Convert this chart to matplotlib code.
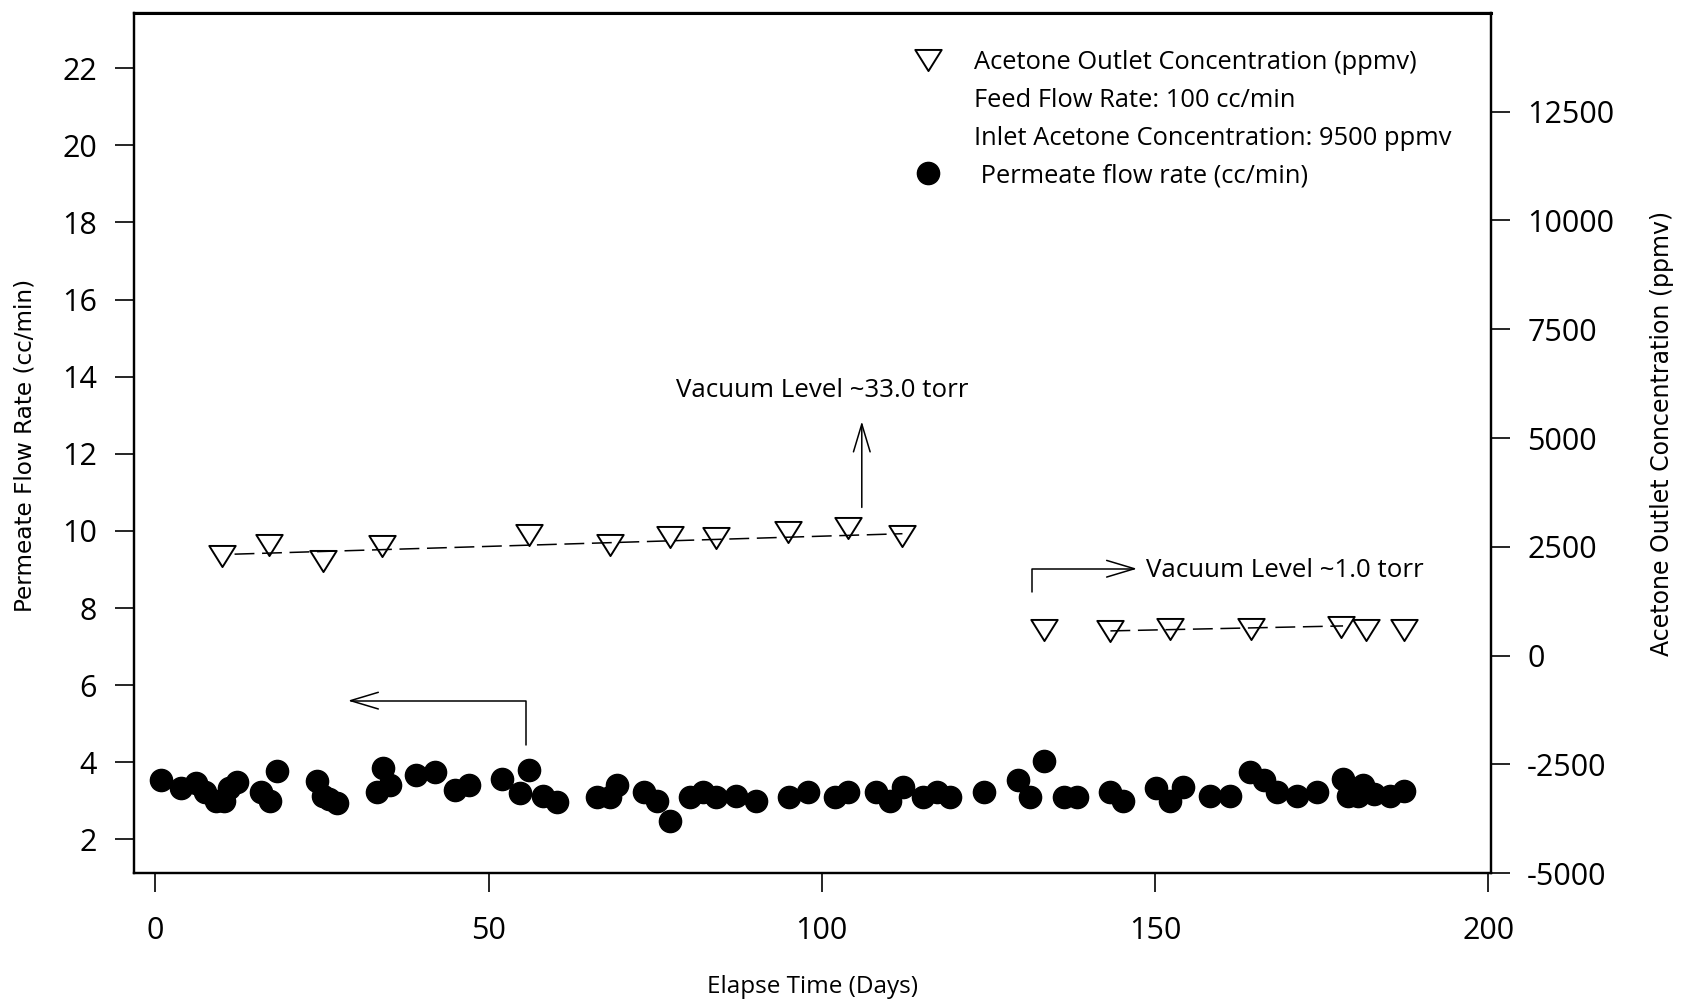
import matplotlib
matplotlib.use('Agg')
import matplotlib.pyplot as plt
from matplotlib.lines import Line2D
from matplotlib.path import Path

plt.rcParams['axes.unicode_minus'] = False
plt.rcParams['font.family'] = ['Open Sans', 'DejaVu Sans']

# permeate flow rate (cc/min), left axis
flow_days = [0.9, 3.9, 6.1, 7.4, 9.1, 10.3, 11.1, 12.3, 15.9, 17.2, 18.2,
             24.2, 25.1, 26.0, 27.2, 33.2, 34.1, 35.2, 39.1, 42.0, 44.9, 47.0,
             52.0, 54.7, 56.1, 58.2, 60.2, 66.2, 68.2, 69.3, 73.3, 75.3, 77.3,
             80.3, 82.2, 84.2, 87.2, 90.1, 95.1, 98.0, 102.0, 104.0, 108.2,
             110.2, 112.2, 115.2, 117.3, 119.2, 124.4, 129.4, 131.3, 133.4,
             136.3, 138.3, 143.2, 145.2, 150.2, 152.3, 154.2, 158.3, 161.3,
             164.3, 166.3, 168.3, 171.3, 174.3, 178.2, 178.9, 180.4, 181.2,
             182.8, 185.3, 187.3]
flow_rate = [3.55, 3.34, 3.46, 3.22, 3.01, 3.01, 3.34, 3.48, 3.24, 3.01, 3.77,
             3.51, 3.14, 3.06, 2.94, 3.24, 3.85, 3.40, 3.68, 3.74, 3.29, 3.40,
             3.57, 3.20, 3.79, 3.14, 2.96, 3.09, 3.09, 3.40, 3.22, 2.99, 2.49,
             3.09, 3.22, 3.09, 3.12, 3.01, 3.09, 3.22, 3.09, 3.24, 3.22,
             3.01, 3.35, 3.09, 3.22, 3.09, 3.22, 3.53, 3.11, 4.03,
             3.11, 3.11, 3.24, 3.01, 3.33, 3.01, 3.35, 3.14, 3.14,
             3.76, 3.53, 3.22, 3.14, 3.24, 3.57, 3.14, 3.12, 3.40,
             3.18, 3.14, 3.27]

# acetone outlet concentration (ppmv), right axis
conc_days_33 = [10.0, 17.1, 25.1, 34.0, 56.0, 68.2, 77.3, 84.2, 95.0, 103.9, 112.1]
conc_33 = [2280, 2550, 2170, 2520, 2780, 2550, 2730, 2710, 2850, 2930, 2750]
conc_days_1 = [133.3, 143.2, 152.2, 164.4, 177.9, 181.6, 187.4]
conc_1 = [595, 560, 610, 610, 650, 595, 595]

# dashed trend lines
trend_days_33 = [11.9, 112.1]
trend_33 = [2330, 2800]
trend_days_1 = [143.3, 178.2]
trend_1 = [566, 680]

# open down-pointing triangle, a bit flatter than matplotlib's 'v'
tri = Path([(-1, 0.8), (1, 0.8), (0, -0.8), (-1, 0.8)], closed=True)

fig = plt.figure(figsize=(16.93, 10.05), dpi=100)
ax = fig.add_axes([0.0791, 0.1313, 0.8016, 0.8558])
ax2 = ax.twinx()

ax.plot(flow_days, flow_rate, 'o', color='black', ms=16, zorder=3)

ax2.plot(trend_days_33, trend_33, color='black', lw=1.1, ls=(0, (13, 5)))
ax2.plot(trend_days_1, trend_1, color='black', lw=1.1, ls=(0, (13, 5)))
ax2.plot(conc_days_33, conc_33, ls='none', marker=tri, ms=19, mfc='none',
         mec='black', mew=1.4)
ax2.plot(conc_days_1, conc_1, ls='none', marker=tri, ms=19, mfc='none',
         mec='black', mew=1.4)

ax.set_xlim(-3.2, 200.4)
ax.set_ylim(1.13, 23.43)
ax2.set_ylim(-5000, 14770)

ax.set_xticks([0, 50, 100, 150, 200])
ax.set_yticks(range(2, 23, 2))
ax2.set_yticks(range(-5000, 12501, 2500))

ax.tick_params(axis='x', direction='out', length=14, width=1.2, pad=17, labelsize=22)
ax.tick_params(axis='y', direction='out', length=13.5, width=1.2, pad=13, labelsize=22)
ax2.tick_params(axis='y', direction='out', length=14, width=1.2, pad=12, labelsize=22)

for a in (ax, ax2):
    for s in a.spines.values():
        s.set_linewidth(1.6)
ax.spines['top'].set_linewidth(2.2)

ax.set_xlabel('Elapse Time (Days)', fontsize=17.5, va='center')
ax.xaxis.set_label_coords(0.5, -0.133)
ax.set_ylabel('Permeate Flow Rate (cc/min)', fontsize=16.7, family='DejaVu Sans')
ax.yaxis.set_label_coords(-0.072, 0.497)
ax2.set_ylabel('Acetone Outlet Concentration (ppmv)', fontsize=17, family='DejaVu Sans')
ax2.yaxis.set_label_coords(1.117, 0.511)

# annotations
arrow = dict(arrowstyle='->,head_length=1.0,head_width=0.3', color='black',
             lw=1.1, shrinkA=0, shrinkB=0, mutation_scale=20)
ax.annotate('', xy=(106.0, 12.84), xytext=(106.0, 10.61), arrowprops=arrow)
ax.text(78.1, 13.65, 'Vacuum Level ~33.0 torr', fontsize=18.6, ha='left', va='center')

ax.annotate('', xy=(28.9, 5.6), xytext=(55.6, 4.44),
            arrowprops=dict(arrow, connectionstyle='angle,angleA=90,angleB=0,rad=0'))

ax.annotate('', xy=(147.3, 9.02), xytext=(131.5, 8.41),
            arrowprops=dict(arrow, connectionstyle='angle,angleA=90,angleB=0,rad=0'))
ax.text(148.6, 8.98, 'Vacuum Level ~1.0 torr', fontsize=18.6, ha='left', va='center')

handles = [
    Line2D([], [], ls='none', marker=tri, ms=19, mfc='none', mec='black', mew=1.4),
    Line2D([], [], ls='none'),
    Line2D([], [], ls='none'),
    Line2D([], [], ls='none', marker='o', ms=16, color='black'),
]
labels = ['Acetone Outlet Concentration (ppmv)', 'Feed Flow Rate: 100 cc/min',
          'Inlet Acetone Concentration: 9500 ppmv', ' Permeate flow rate (cc/min)']
ax2.legend(handles, labels, loc='upper left', bbox_to_anchor=(0.5755, 0.957),
           frameon=False, fontsize=18.4, borderpad=0, borderaxespad=0,
           handlelength=1.0, handletextpad=1.3, labelspacing=0.5)

fig.savefig('out.png', dpi=100)
